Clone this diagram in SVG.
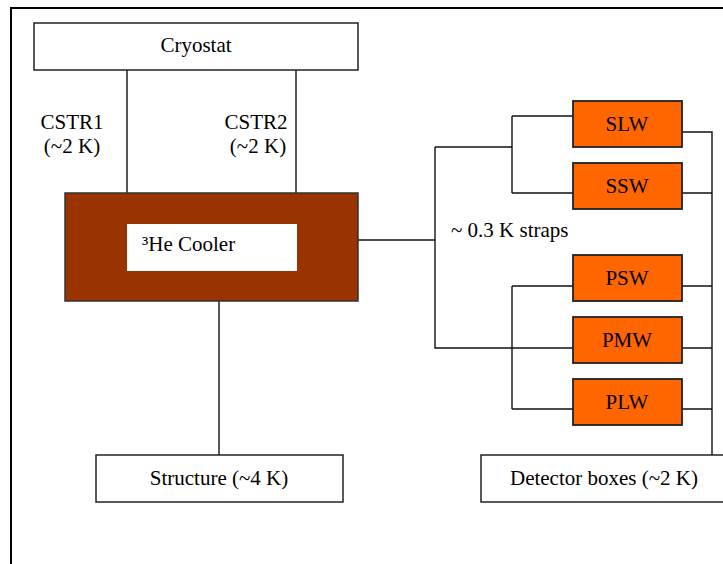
<svg xmlns="http://www.w3.org/2000/svg" width="723" height="564" viewBox="0 0 723 564">
<style>
text{font-family:'Liberation Serif','Times New Roman','DejaVu Serif',serif;font-size:21px;fill:#000}
.box{fill:#fff;stroke:#222;stroke-width:1.5}
.det{fill:#ff6600;stroke:#222;stroke-width:1.8}
.ln{fill:none;stroke:#111;stroke-width:1.4}
.mid{text-anchor:middle}
</style>
<rect width="723" height="564" fill="#fff"/>
<rect x="11" y="8" width="740" height="600" fill="none" stroke="#000" stroke-width="2"/>
<g id="connectors">
<path class="ln" d="M127 70V193M296 70V193"/>
<path class="ln" d="M219 301V455"/>
<path class="ln" d="M358 240H435M435 147V348H573M435 147H512M512 116V193M512 116H573M512 193H573"/>
<path class="ln" d="M512 286V409M512 286H573M512 409H573"/>
<path class="ln" d="M682 132H712V455M682 193H712M682 286H712M682 348H712M682 409H712"/>
</g>
<g id="cryostat"><rect class="box" x="34" y="23" width="324" height="47"/><text class="mid" x="196" y="52" font-family="Liberation Serif">Cryostat</text></g>
<g id="cstr1"><text class="mid" x="72" y="129" font-family="Liberation Serif">CSTR1</text><text class="mid" x="72" y="153" font-family="Liberation Serif">(~2 K)</text></g>
<g id="cstr2"><text class="mid" x="256" y="129" font-family="Liberation Serif">CSTR2</text><text class="mid" x="258" y="153" font-family="Liberation Serif">(~2 K)</text></g>
<g id="cooler"><rect x="65" y="193" width="293" height="108" fill="#993300" stroke="#333" stroke-width="1.5"/><rect x="127" y="224" width="170" height="47" fill="#fff"/><text x="142" y="251" font-family="Liberation Serif">³He Cooler</text></g>
<g id="structure"><rect class="box" x="96" y="455" width="247" height="47"/><text class="mid" x="219" y="485" font-family="Liberation Serif">Structure (~4 K)</text></g>
<g id="straps"><text x="451" y="237" font-family="Liberation Serif">~ 0.3 K straps</text></g>
<g id="slw"><rect class="det" x="573" y="101" width="109" height="46"/><text class="mid" x="627" y="131" font-family="Liberation Serif">SLW</text></g>
<g id="ssw"><rect class="det" x="573" y="163" width="109" height="46"/><text class="mid" x="627" y="193" font-family="Liberation Serif">SSW</text></g>
<g id="psw"><rect class="det" x="573" y="255" width="109" height="46"/><text class="mid" x="627" y="285" font-family="Liberation Serif">PSW</text></g>
<g id="pmw"><rect class="det" x="573" y="317" width="109" height="46"/><text class="mid" x="627" y="347" font-family="Liberation Serif">PMW</text></g>
<g id="plw"><rect class="det" x="573" y="379" width="109" height="46"/><text class="mid" x="627" y="409" font-family="Liberation Serif">PLW</text></g>
<g id="detector-boxes"><rect class="box" x="481" y="455" width="260" height="47"/><text class="mid" x="604" y="485" font-family="Liberation Serif">Detector boxes (~2 K)</text></g>
</svg>
